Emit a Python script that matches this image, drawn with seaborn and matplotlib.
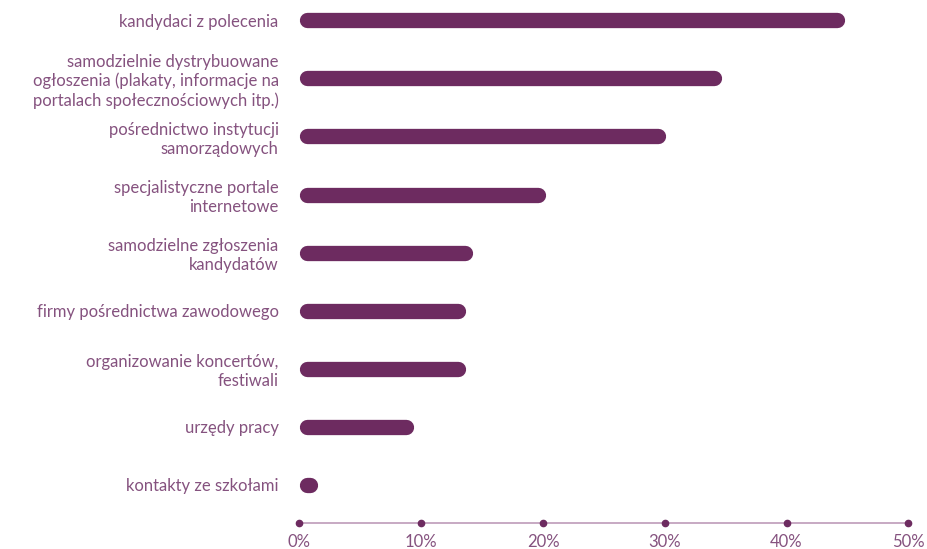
import matplotlib
matplotlib.use("Agg")
import matplotlib.pyplot as plt
import matplotlib.transforms as mtransforms
import seaborn as sns
import pandas as pd

# values (percent of answers)
categories = [
    "kandydaci z polecenia",
    "samodzielnie dystrybuowane\nogłoszenia (plakaty, informacje na\nportalach społecznościowych itp.)",
    "pośrednictwo instytucji\nsamorządowych",
    "specjalistyczne portale\ninternetowe",
    "samodzielne zgłoszenia\nkandydatów",
    "firmy pośrednictwa zawodowego",
    "organizowanie koncertów,\nfestiwali",
    "urzędy pracy",
    "kontakty ze szkołami",
]
values = [44.8, 34.7, 30.1, 20.2, 14.2, 13.65, 13.65, 9.35, 1.5]
ticks = [0, 10, 20, 30, 40, 50]
tick_labels = ["0%", "10%", "20%", "30%", "40%", "50%"]

bar_color = "#6d2b60"
text_color = "#85527f"
axis_color = "#c3a2be"

df = pd.DataFrame({"category": categories, "value": values})

sns.set_style("white")
plt.rcParams["font.family"] = ["Lato", "DejaVu Sans"]

fig = plt.figure(figsize=(9.28, 5.49), dpi=100)
ax = fig.add_axes([0.3227, 0.0474, 0.6561, 0.9526])

sns.barplot(data=df, x="value", y="category", orient="h", color=bar_color,
            width=0.26, ax=ax)

ax.set_xlim(0, 50)
ax.set_ylim(8.655, -0.35)

# rounded bars: replace each rectangle with a round-capped line
bar_px = 15.3
lw_pt = bar_px * 72 / fig.dpi
cap = (bar_px / 2) / (ax.get_position().width * fig.get_figwidth() * fig.dpi) * 50
for p in ax.patches:
    w = p.get_width()
    yc = p.get_y() + p.get_height() / 2
    p.set_visible(False)
    x0 = cap
    x1 = max(w - cap, x0 + 0.001)
    ax.plot([x0, x1], [yc, yc], color=bar_color, lw=lw_pt,
            solid_capstyle="round", zorder=3)

for s in ["top", "right", "left"]:
    ax.spines[s].set_visible(False)
ax.spines["bottom"].set_color(axis_color)
ax.spines["bottom"].set_linewidth(1.3)

ax.set_xticks(ticks)
ax.set_xticklabels(tick_labels)
ax.tick_params(axis="x", length=0, pad=8, labelsize=12, colors=text_color)
ax.tick_params(axis="y", length=0, pad=15, labelsize=12, colors=text_color)
for t in ax.get_xticklabels() + ax.get_yticklabels():
    t.set_color(text_color)

# dots on the axis at each tick
trans = mtransforms.blended_transform_factory(ax.transData, ax.transAxes)
ax.plot(ticks, [0] * len(ticks), "o", color=bar_color, ms=4.5,
        transform=trans, clip_on=False, zorder=4)

ax.set_xlabel("")
ax.set_ylabel("")

fig.savefig("out.png", dpi=100)
